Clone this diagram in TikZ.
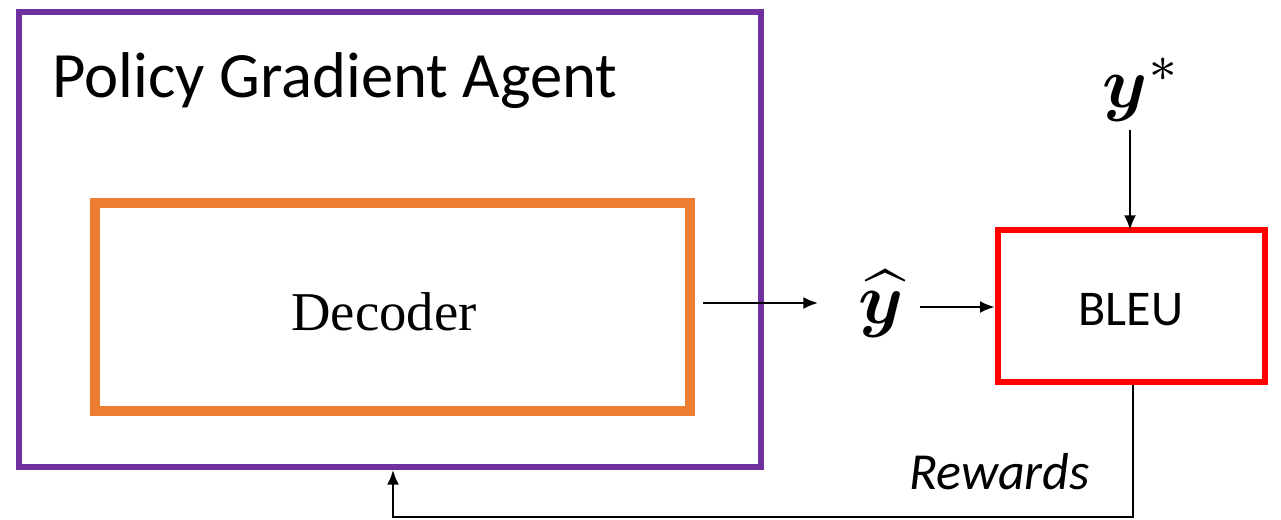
\documentclass[tikz,border=0pt]{standalone}
\usepackage{amsmath,bm}
\usepackage{graphicx}
\usepackage{fontspec}
\setmainfont{Carlito}
\newfontfamily\decfont{Liberation Serif}
\usetikzlibrary{arrows.meta}
\definecolor{agentpurple}{RGB}{112,48,160}
\definecolor{decorange}{RGB}{237,125,49}
\definecolor{bleured}{RGB}{255,0,0}
\tikzset{
  frame/.style={draw, fill=none},
  flow/.style={draw=black, line width=1.6pt, -{Latex[length=11pt,width=9pt]}},
  label/.style={inner sep=0pt, anchor=center},
}
\begin{document}
\begin{tikzpicture}[x=0.75pt,y=-0.75pt]
\useasboundingbox (0,0) rectangle (1281,519);
% outer agent frame
\draw[frame, agentpurple, line width=4.5pt] (19,12) rectangle (761,467);
\node[label, anchor=base west, font=\fontsize{48.5}{52}\selectfont] (title) at (52,97) {Policy Gradient Agent};
% decoder box
\node[frame, draw=decorange, line width=7.5pt, minimum width=595*0.75pt, minimum height=208*0.75pt, inner sep=0pt] (dec) at (392.5,307) {};
\node[label, font=\decfont\fontsize{41}{44}\selectfont] at (384,312) {Decoder};
% BLEU box
\node[frame, draw=bleured, line width=5pt, minimum width=267*0.75pt, minimum height=152*0.75pt, inner sep=0pt] (bleu) at (1131.5,306) {};
\node[label, font=\fontsize{37.5}{40}\selectfont] at (1131,310) {BLEU};
% outputs
\node[label] (yhat) at (881,304) {\scalebox{5.4}{$\widehat{\bm{y}}$}};
\node[label] (ystar) at (1142,90) {\scalebox{5.4}{$\bm{y}^{*}$}};
\coordinate (decout) at (703,303);
\draw[flow] (decout) -- (818,303);
\draw[flow] (920,307) -- (bleu.west |- 0,307);
\draw[flow] (1130,130) -- (1130,230);
% reward feedback
\coordinate (rw1) at (1133,385);
\coordinate (rw2) at (1133,517);
\coordinate (rw3) at (393,517);
\draw[flow] (rw1) -- (rw2) -- (rw3) -- (393,470);
\node[label, anchor=base east, font=\itshape\fontsize{39}{42}\selectfont] (rewards) at (1090,489) {Rewards};
\end{tikzpicture}
\end{document}
